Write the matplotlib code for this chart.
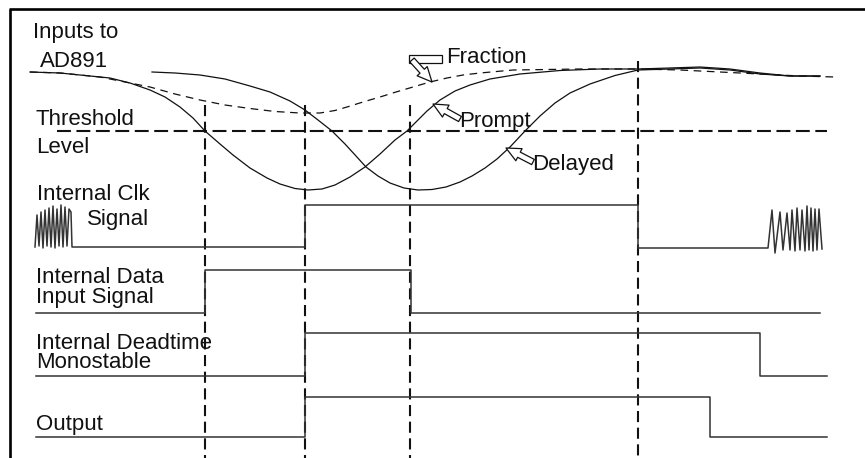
import matplotlib
matplotlib.use('Agg')
import matplotlib.pyplot as plt
from matplotlib.patches import Rectangle

plt.rcParams['font.family'] = ['Liberation Sans', 'DejaVu Sans']
plt.rcParams['lines.scale_dashes'] = False

# Axe horizontal : temps (unites du dessin), axe vertical : niveau (vers le bas)
# Entrees analogiques
prompt_x = [30, 60, 90, 110, 130, 150, 165, 180, 193, 205, 220, 233, 250, 267, 280, 295,
            308, 322, 335, 350, 365, 380, 395, 407, 417, 427, 440, 455, 470, 490, 520,
            560, 600, 638, 670, 700, 730, 760, 790, 820]
prompt_y = [72, 73, 76, 78, 83, 90, 97, 107, 118, 131, 144, 155, 168, 178, 184, 188.5,
            190, 189, 185, 177, 167, 154, 140, 131, 121, 111, 100, 91, 85, 79, 74,
            70.5, 69, 69, 68, 67, 69, 73, 76, 76]

delayed_x = [152, 175, 200, 225, 250, 270, 290, 305, 318, 332, 345, 356, 366, 378, 390,
             404, 418, 432, 446, 460, 472, 485, 497, 510, 525, 540, 555, 570, 590, 615,
             638, 670, 700, 730, 760, 790, 820]
delayed_y = [72, 73, 75, 79, 86, 92, 101, 110, 120, 131, 144, 156, 167, 176, 183,
             188, 190, 189.5, 187, 182, 176, 168, 159, 147, 131, 116, 103, 93, 84, 75.5,
             70, 69, 68, 70, 74, 76, 76]

fraction_x = [30, 60, 100, 125, 150, 175, 200, 225, 250, 275, 300, 320, 335, 347, 363,
              380, 396, 413, 430, 447, 463, 480, 513, 580, 638, 680, 720, 760, 800, 835]
fraction_y = [72, 73, 77, 82, 87, 94, 100, 105, 108.5, 111.5, 113, 113, 110.5, 107, 102,
              97, 92, 87, 82, 78, 75, 73, 70, 69, 69, 70, 72, 74, 76, 77]

threshold_y = 131
threshold_x = [57, 827]

# Instants de basculement (lignes verticales pointillees)
t_marks = [205, 305, 410, 638]
t_marks_top = [105, 105, 105, 61]

# Signaux logiques
clk_x = [35, 37, 39, 41, 43, 45, 47, 49, 51, 53, 55, 57, 59, 61, 63, 65, 67, 69, 71, 72,
         305, 305, 638, 638, 768, 772, 775, 780, 783, 787, 790, 792, 795, 797, 800, 802,
         805, 807, 809, 811, 813, 815, 817, 819, 822]
clk_y = [247, 215, 246, 212, 248, 210, 246, 208, 247, 206, 248, 209, 246, 205, 247, 207,
         246, 209, 212, 247,
         247, 205, 205, 248, 248, 210, 253, 212, 250, 213, 250, 210, 251, 208, 250, 210,
         251, 206, 250, 208, 251, 209, 250, 209, 249]

data_x = [36, 205, 205, 411, 411, 820]
data_y = [313, 313, 270, 270, 313, 313]

deadtime_x = [36, 305, 305, 760, 760, 827]
deadtime_y = [376, 376, 333, 333, 376, 376]

output_x = [36, 305, 305, 710, 710, 827]
output_y = [437, 437, 397, 397, 437, 437]

fig = plt.figure(figsize=(8.65, 4.58), dpi=100)
ax = fig.add_axes([0, 0, 1, 1])
ax.set_xlim(0, 865)
ax.set_ylim(458, 0)
ax.axis('off')

# Cadre (haut et gauche)
ax.plot([9, 865], [8.5, 8.5], color='black', lw=1.9, solid_capstyle='butt')
ax.plot([10, 10], [8.5, 458], color='black', lw=1.9, solid_capstyle='butt')

# Courbes
ax.plot(prompt_x, prompt_y, color='#111111', lw=0.9)
ax.plot(delayed_x, delayed_y, color='#111111', lw=0.9)
ax.plot(fraction_x, fraction_y, color='#111111', lw=0.9, linestyle=(0, (5.5, 4)))
ax.plot(threshold_x, [threshold_y, threshold_y], color='#111111', lw=1.5,
        linestyle=(0, (10, 4)))

for t, top in zip(t_marks, t_marks_top):
    ax.plot([t, t], [top, 458], color='#111111', lw=1.5, linestyle=(0, (8, 4)))

# Signaux
for xs, ys in [(clk_x, clk_y), (data_x, data_y), (deadtime_x, deadtime_y), (output_x, output_y)]:
    ax.plot(xs, ys, color='#333333', lw=1.1)

# Textes
fs = 16
labels = [
    ('Inputs to', 33, 38), ('AD891', 40, 67),
    ('Threshold', 36, 125), ('Level', 36, 153),
    ('Internal Clk', 37, 200), ('Signal', 87, 225),
    ('Internal Data', 36, 283), ('Input Signal', 36, 303),
    ('Internal Deadtime', 36, 349), ('Monostable', 36, 368),
    ('Output', 36, 430),
    ('Fraction', 446, 63), ('Prompt', 459, 127), ('Delayed', 532, 170),
]
for txt, x, y in labels:
    ax.text(x, y, txt, fontsize=fs, ha='left', va='baseline', color='#111111')

# Fleches creuses
arrow = dict(arrowstyle='simple,head_length=0.75,head_width=0.7,tail_width=0.3',
             fc='white', ec='#111111', lw=0.9, shrinkA=0, shrinkB=0, mutation_scale=14)
ax.annotate('', xy=(433, 104), xytext=(460, 119), arrowprops=arrow)
ax.annotate('', xy=(506, 148), xytext=(533, 162), arrowprops=arrow)
ax.add_patch(Rectangle((409, 55), 33, 8, fc='white', ec='#111111', lw=0.9, zorder=2))
ax.annotate('', xy=(432, 82), xytext=(412, 60), arrowprops=arrow, zorder=3)

fig.savefig('out.png', dpi=100)
